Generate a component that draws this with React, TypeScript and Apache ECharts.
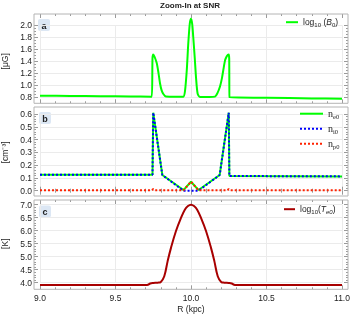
import React, { useEffect, useRef } from "react";
import * as echarts from "echarts";

// Panel a: magnetic field
const bR = [9.0, 9.2, 9.4, 9.6, 9.74, 9.745, 9.75, 9.758, 9.773, 9.785, 9.795, 9.805, 9.817, 9.834, 9.9, 9.949, 9.96, 9.972, 9.982, 9.992, 10.0, 10.008, 10.015, 10.025, 10.033, 10.044, 10.06, 10.12, 10.159, 10.175, 10.192, 10.205, 10.214, 10.226, 10.236, 10.245, 10.25, 10.253, 10.255, 10.5, 10.8, 11.0];
const bVal = [0.827, 0.822, 0.818, 0.814, 0.81, 1.45, 1.515, 1.48, 1.37, 1.2, 1.03, 0.92, 0.855, 0.812, 0.808, 0.81, 0.9, 1.25, 1.7, 2.03, 2.11, 2.02, 1.8, 1.45, 1.14, 0.86, 0.805, 0.805, 0.812, 0.87, 0.98, 1.12, 1.255, 1.42, 1.48, 1.51, 1.515, 1.45, 0.8, 0.793, 0.782, 0.775];

// Panel b: densities
const neR = [9.0, 9.745, 9.75, 9.81, 9.95, 10.0, 10.05, 10.19, 10.25, 10.254, 11.0];
const neVal = [0.124, 0.124, 0.61, 0.123, 0.005, 0.07, 0.005, 0.123, 0.61, 0.115, 0.112];
const niR = [9.0, 9.745, 9.75, 9.81, 9.95, 10.05, 10.19, 10.25, 10.254, 11.0];
const niVal = [0.124, 0.124, 0.61, 0.123, 0.0, 0.0, 0.123, 0.61, 0.115, 0.112];
const npR = [9.0, 9.74, 9.75, 9.76, 9.95, 10.0, 10.05, 10.24, 10.25, 10.26, 11.0];
const npVal = [0.003, 0.003, 0.012, 0.003, 0.003, 0.07, 0.003, 0.003, 0.012, 0.003, 0.003];

// Panel c: temperature
const tR = [9.0, 9.5, 9.7, 9.715, 9.73, 9.75, 9.78, 9.8, 9.823, 9.845, 9.867, 9.9, 9.933, 9.96, 9.98, 10.0, 10.02, 10.04, 10.067, 10.1, 10.133, 10.155, 10.177, 10.2, 10.22, 10.25, 10.27, 10.285, 10.3, 10.5, 11.0];
const tVal = [3.91, 3.91, 3.91, 3.92, 3.97, 3.99, 4.0, 4.03, 4.25, 4.82, 5.33, 5.98, 6.48, 6.82, 6.95, 7.0, 6.95, 6.82, 6.48, 5.98, 5.33, 4.82, 4.25, 4.03, 4.0, 3.99, 3.97, 3.92, 3.91, 3.91, 3.91];

const xTickLabels = ["9.0", "9.5", "10.0", "10.5", "11.0"];

const zip = (xs: number[], ys: number[]) => xs.map((x, i) => [x, ys[i]]);

const FONT = "Liberation Sans, Arial, sans-serif";
const SERIF = "Liberation Serif, DejaVu Serif, serif";
const TICK = "#9a9a9a";
const FRAME = "#b4b4b4";
const GRIDC = "#ebebeb";

const panels = [
  { top: 25.3, height: 72, min: 0.8, max: 2.0, interval: 0.2, minor: 4, frameTop: 14, frameBottom: 103.3, name: "[μG]", dec: 1 },
  { top: 114, height: 76.7, min: 0, max: 0.6, interval: 0.1, minor: 5, frameTop: 107, frameBottom: 196, name: "[cm⁻³]", dec: 1 },
  { top: 204.7, height: 78, min: 4, max: 7, interval: 0.5, minor: 5, frameTop: 200, frameBottom: 289.3, name: "[K]", dec: 1 },
];

const legendRich = {
  n: { fontSize: 8.5, lineHeight: 12, fontFamily: FONT, color: "#222" },
  s: { fontSize: 6, lineHeight: 7, verticalAlign: "bottom", fontFamily: FONT, color: "#222" },
  i: { fontSize: 8.5, lineHeight: 12, fontStyle: "italic", fontFamily: FONT, color: "#222" },
  si: { fontSize: 6, lineHeight: 7, verticalAlign: "bottom", fontStyle: "italic", fontFamily: FONT, color: "#222" },
  sn: { fontSize: 10, lineHeight: 12, fontFamily: SERIF, color: "#222" },
  ss: { fontSize: 6.5, lineHeight: 7, verticalAlign: "bottom", fontFamily: SERIF, color: "#222" },
};

const legendText: Record<string, string> = {
  "log10 (B0)": "{n|log}{s|10}{n| (}{i|B}{s|0}{n|)}",
  ne0: "{sn|n}{ss|e0}",
  ni0: "{sn|n}{ss|i0}",
  np0: "{sn|n}{ss|p0}",
  "log10 (Te0)": "{n|log}{s|10}{n|(}{i|T}{si|e0}{n|)}",
};

export default function App() {
  const ref = useRef<HTMLDivElement>(null);
  useEffect(() => {
    if (!ref.current) return;
    const chart = echarts.init(ref.current, undefined, { renderer: "svg" });

    const grid = panels.map((p) => ({ left: 40, right: 15, top: p.top, height: p.height, containLabel: false, outerBoundsMode: "none" }));
    const xAxis: any[] = [];
    const yAxis: any[] = [];
    panels.forEach((p, i) => {
      const bottomOffset = p.frameBottom - (p.top + p.height);
      const topOffset = p.top - p.frameTop;
      const isLast = i === panels.length - 1;
      xAxis.push({
        type: "value", gridIndex: i, min: 9, max: 11, interval: 0.5, position: "bottom", offset: bottomOffset,
        axisLine: { show: false },
        axisTick: { show: true, inside: true, length: 4, lineStyle: { color: TICK } },
        minorTick: { show: true, splitNumber: 5, length: 2, lineStyle: { color: TICK } },
        splitLine: { show: true, lineStyle: { color: GRIDC, width: 1 } },
        axisLabel: {
          show: isLast, margin: 4, fontSize: 8.5, fontFamily: FONT, color: "#222",
          formatter: (v: number) => { const idx = Math.round((v - 9) / 0.5); return xTickLabels[idx] ?? ""; },
        },
        name: isLast ? "R (kpc)" : "", nameLocation: "middle", nameGap: 15,
        nameTextStyle: { fontSize: 8.5, fontFamily: FONT, color: "#222" },
      });
      xAxis.push({
        type: "value", gridIndex: i, min: 9, max: 11, interval: 0.5, position: "top", offset: topOffset,
        axisLine: { show: false }, axisLabel: { show: false }, splitLine: { show: false },
        axisTick: { show: true, inside: true, length: 4, lineStyle: { color: TICK } },
        minorTick: { show: true, splitNumber: 5, length: 2, lineStyle: { color: TICK } },
      });
      yAxis.push({
        type: "value", gridIndex: i, min: p.min, max: p.max, interval: p.interval, position: "left", offset: 6,
        axisLine: { show: false },
        axisTick: { show: true, inside: true, length: 4, lineStyle: { color: TICK } },
        minorTick: { show: true, splitNumber: p.minor, length: 2, lineStyle: { color: TICK } },
        splitLine: { show: true, lineStyle: { color: GRIDC, width: 1 } },
        axisLabel: { margin: 2, fontSize: 8.5, fontFamily: FONT, color: "#222", formatter: (v: number) => v.toFixed(p.dec) },
        name: p.name, nameLocation: "middle", nameGap: 15, nameRotate: 90,
        nameTextStyle: { fontSize: 8.5, fontFamily: FONT, color: "#222" },
      });
      yAxis.push({
        type: "value", gridIndex: i, min: p.min, max: p.max, interval: p.interval, position: "right", offset: 6,
        axisLine: { show: false }, axisLabel: { show: false }, splitLine: { show: false },
        axisTick: { show: true, inside: true, length: 4, lineStyle: { color: TICK } },
        minorTick: { show: true, splitNumber: p.minor, length: 2, lineStyle: { color: TICK } },
      });
    });

    const frames = panels.map((p) => ({
      type: "rect", z: 100, silent: true,
      shape: { x: 34, y: p.frameTop, width: 314, height: p.frameBottom - p.frameTop },
      style: { fill: "none", stroke: FRAME, lineWidth: 1 },
    }));
    const letters = [["a", 38, 19], ["b", 39, 112], ["c", 39, 205.5]].map(([t, x, y]) => ({
      type: "group", z: 101,
      children: [
        { type: "rect", shape: { x: x as number, y: y as number, width: 12, height: 12, r: 2 }, style: { fill: "#dce7f4" } },
        { type: "text", x: (x as number) + 6, y: (y as number) + 6.5, style: { text: t as string, fill: "#222", font: "bold 9px sans-serif", align: "center", verticalAlign: "middle" } },
      ],
    }));

    const lineSeries = (name: string, xs: number[], ys: number[], idx: number, color: string, type: any, smooth: number | boolean, z: number) => ({
      type: "line", name, xAxisIndex: idx * 2, yAxisIndex: idx * 2, data: zip(xs, ys),
      showSymbol: false, symbol: "none", clip: false, smooth, z,
      lineStyle: { color, width: 2, type }, itemStyle: { color },
    });

    const fmt = (name: string) => legendText[name] ?? name;
    const legendCommon = {
      orient: "vertical", itemHeight: 10, itemGap: 4, padding: 0, formatter: fmt,
      textStyle: { rich: legendRich }, selectedMode: false,
      itemStyle: { opacity: 0, borderWidth: 0 },
    };

    chart.setOption({
      animation: false,
      title: { text: "Zoom-In at SNR", left: 160, top: 1, padding: 0, textStyle: { fontSize: 8, fontWeight: "bold", fontFamily: FONT, color: "#222" } },
      grid,
      xAxis,
      yAxis,
      legend: [
        { ...legendCommon, data: ["log10 (B0)"], left: 285, top: 17.7, itemWidth: 12 },
        { ...legendCommon, data: ["ne0", "ni0", "np0"], left: 299, top: 108.7, itemWidth: 23 },
        { ...legendCommon, data: ["log10 (Te0)"], left: 283, top: 204.7, itemWidth: 11 },
      ],
      graphic: [...frames, ...letters],
      series: [
        lineSeries("log10 (B0)", bR, bVal, 0, "#00ff00", "solid", 0.25, 2),
        lineSeries("ne0", neR, neVal, 1, "#00ff00", "solid", false, 2),
        lineSeries("ni0", niR, niVal, 1, "#0000ff", [2, 2], false, 3),
        lineSeries("np0", npR, npVal, 1, "#ff2200", [2, 2], false, 4),
        lineSeries("log10 (Te0)", tR, tVal, 2, "#a80000", "solid", 0.4, 2),
      ],
    });
    return () => chart.dispose();
  }, []);
  return <div ref={ref} style={{ position: "fixed", left: 0, top: 0, width: 357, height: 318 }} />;
}
